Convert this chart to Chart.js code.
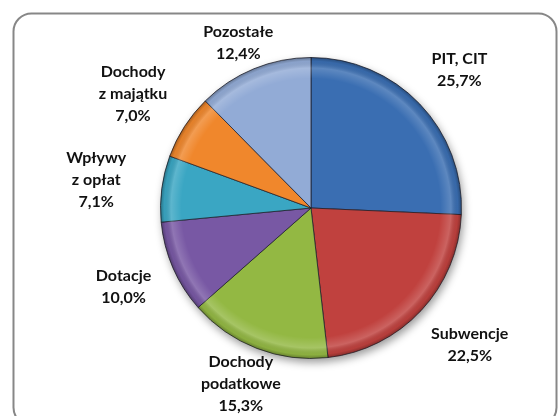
<!DOCTYPE html>
<html>
<head>
<meta charset="utf-8">
<script src="https://cdn.jsdelivr.net/npm/chart.js@4/dist/chart.umd.min.js"></script>
<style>
  html, body { margin: 0; padding: 0; background: #fff; }
  #wrap { width: 560px; height: 416px; position: relative; }
</style>
</head>
<body>
<div id="wrap"><canvas id="pie" width="560" height="416"></canvas></div>
<script>
// data (percent shares)
const categories = ["PIT, CIT", "Subwencje", "Dochody\npodatkowe", "Dotacje", "Wpływy\nz opłat", "Dochody\nz majątku", "Pozostałe"];
const shares = [25.7, 22.5, 15.3, 10.0, 7.1, 7.0, 12.4];

const sliceColors = ["#3a6eb2", "#c0413e", "#93b843", "#7858a4", "#3aa6c3", "#f0872c", "#92abd6"];
// distance between rim and the nearest edge of each label box
const labelGap = [27, 28, 5, 26, 36, 27, 6];

// rounded frame behind everything
const framePlugin = {
  id: "frame",
  beforeDraw(chart) {
    const ctx = chart.ctx;
    ctx.save();
    ctx.fillStyle = "#fff";
    ctx.fillRect(0, 0, chart.width, chart.height);
    ctx.beginPath();
    ctx.roundRect(13.5, 13.5, 543, 412, 18);
    ctx.strokeStyle = "#878787";
    ctx.lineWidth = 2;
    ctx.stroke();
    ctx.restore();
  },
  // soft shadow under the pie
  beforeDatasetsDraw(chart) {
    const arc = chart.getDatasetMeta(0).data[0];
    if (!arc) return;
    const { x, y, outerRadius } = arc.getProps(["x", "y", "outerRadius"], true);
    const ctx = chart.ctx;
    ctx.save();
    ctx.beginPath();
    ctx.arc(x, y, outerRadius, 0, Math.PI * 2);
    ctx.fillStyle = "#fff";
    ctx.shadowColor = "rgba(0,0,0,0.4)";
    ctx.shadowBlur = 9;
    ctx.shadowOffsetX = 2;
    ctx.shadowOffsetY = 4;
    ctx.fill();
    ctx.restore();
  }
};

// bevel look: light ring near the rim, darker outer edge
const bevelPlugin = {
  id: "bevel",
  afterDatasetsDraw(chart) {
    const ctx = chart.ctx;
    chart.getDatasetMeta(0).data.forEach((arc) => {
      const p = arc.getProps(["x", "y", "startAngle", "endAngle", "outerRadius"], true);
      ctx.save();
      ctx.beginPath();
      ctx.moveTo(p.x, p.y);
      ctx.arc(p.x, p.y, p.outerRadius, p.startAngle, p.endAngle);
      ctx.closePath();
      const g = ctx.createRadialGradient(p.x, p.y, 0, p.x, p.y, p.outerRadius);
      g.addColorStop(0, "rgba(255,255,255,0)");
      g.addColorStop(0.86, "rgba(255,255,255,0)");
      g.addColorStop(0.93, "rgba(255,255,255,0.18)");
      g.addColorStop(0.975, "rgba(0,0,0,0.05)");
      g.addColorStop(1, "rgba(0,0,0,0.3)");
      ctx.fillStyle = g;
      ctx.fill();
      ctx.restore();
    });
  }
};

// labels outside the slices, name + percent
const labelPlugin = {
  id: "outLabels",
  afterDraw(chart) {
    const ctx = chart.ctx;
    const lineH = 22;
    ctx.save();
    ctx.font = "bold 16px Lato, 'Open Sans', sans-serif";
    ctx.fillStyle = "#111";
    ctx.textAlign = "center";
    ctx.textBaseline = "middle";
    chart.getDatasetMeta(0).data.forEach((arc, i) => {
      const p = arc.getProps(["x", "y", "startAngle", "endAngle", "outerRadius"], true);
      const mid = (p.startAngle + p.endAngle) / 2;
      const dx = Math.cos(mid), dy = Math.sin(mid);
      const lines = categories[i].split("\n");
      lines.push(shares[i].toFixed(1).replace(".", ",") + "%");
      const w = Math.max(...lines.map((l) => ctx.measureText(l).width));
      const h = lines.length * lineH;
      const r = p.outerRadius + labelGap[i];
      const cx = p.x + dx * r + dx * w / 2;
      const cy = p.y + dy * r + dy * h / 2;
      lines.forEach((l, k) => {
        ctx.fillText(l, cx, cy - h / 2 + lineH * (k + 0.5));
      });
    });
    ctx.restore();
  }
};

new Chart(document.getElementById("pie"), {
  type: "pie",
  data: {
    labels: categories,
    datasets: [
      {
        data: shares,
        backgroundColor: sliceColors,
        borderColor: "rgba(30,30,40,0.75)",
        borderWidth: 1,
      },
    ],
  },
  options: {
    responsive: false,
    animation: false,
    layout: { padding: { top: 57, bottom: 57, left: 160, right: 98 } },
    plugins: {
      legend: { display: false },
      tooltip: { enabled: false },
    },
  },
  plugins: [framePlugin, bevelPlugin, labelPlugin],
});
</script>
</body>
</html>
